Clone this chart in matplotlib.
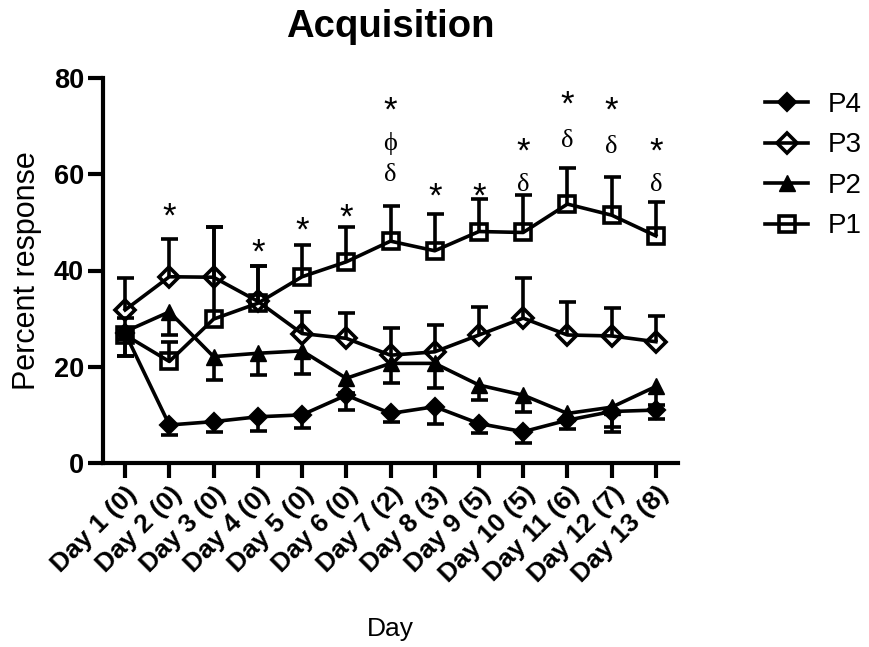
import numpy as np
import matplotlib
matplotlib.use("Agg")
import matplotlib.pyplot as plt

plt.rcParams['font.family'] = ['Liberation Sans', 'DejaVu Sans']

days = np.arange(1, 14)
tick_labels = ["Day 1 (0)", "Day 2 (0)", "Day 3 (0)", "Day 4 (0)", "Day 5 (0)",
               "Day 6 (0)", "Day 7 (2)", "Day 8 (3)", "Day 9 (5)", "Day 10 (5)",
               "Day 11 (6)", "Day 12 (7)", "Day 13 (8)"]

p1 = [26.6, 21.1, 29.9, 33.2, 38.7, 41.8, 46.1, 44.1, 48.1, 47.9, 53.8, 51.5, 47.2]
p1_err = [3.5, 4.1, 19.2, 7.7, 6.6, 7.3, 7.2, 7.6, 6.7, 7.8, 7.6, 7.9, 7.0]
p3 = [31.8, 38.7, 38.6, 33.6, 26.9, 25.9, 22.4, 23.1, 26.6, 30.1, 26.6, 26.4, 25.2]
p3_err = [6.6, 7.8, 10.5, 7.3, 4.5, 5.3, 5.6, 5.6, 5.9, 8.3, 6.9, 5.9, 5.3]
p2 = [27.3, 31.4, 22.1, 22.8, 23.3, 17.6, 20.7, 20.7, 16.2, 14.1, 10.3, 11.6, 15.9]
p2_err = [5.0, 4.8, 4.9, 4.5, 4.8, 3.1, 4.0, 5.2, 3.1, 3.4, 1.4, 4.1, 3.8]
p4 = [27.0, 7.9, 8.6, 9.6, 10.0, 14.1, 10.3, 11.7, 8.2, 6.5, 8.9, 10.7, 11.0]
p4_err = [4.8, 2.1, 2.2, 2.9, 2.8, 3.1, 1.7, 3.5, 2.0, 2.4, 1.9, 4.2, 1.9]

# significance annotations: (day, symbol, y)
ann_days = [2, 4, 5, 6, 7, 7, 7, 8, 9, 10, 10, 11, 11, 12, 12, 13, 13]
ann_syms = ['*', '*', '*', '*', '*', 'ϕ', 'δ', '*', '*', '*', 'δ', '*', 'δ', '*', 'δ', '*', 'δ']
ann_vals = [53.2, 45.7, 50.3, 52.9, 75.1, 66.4, 60.6, 57.4, 57.4, 66.7, 58.4, 76.5, 67.5, 75.1, 66.4, 66.7, 58.4]

fig = plt.figure(figsize=(8.69, 6.47), dpi=100)
ax = fig.add_axes([103/869, 1-463/647, (678-103)/869, (463-78)/647])

lw = 2.6
cap_px = 17

def draw(y, err, direction, **kw):
    y = np.array(y); err = np.array(err)
    end = y + direction * err
    ax.vlines(days, y, end, color='black', lw=lw, zorder=2)
    ax.plot(days, end, ls='none', marker='_', ms=cap_px*0.72, mew=lw, color='black', zorder=2)
    line, = ax.plot(days, y, color='black', lw=lw, zorder=3, **kw)
    return line

h4 = draw(p4, p4_err, -1, marker='D', ms=8, mfc='black', mec='black', mew=lw)
h3 = draw(p3, p3_err, 1, marker='D', ms=10, mfc='none', mec='black', mew=lw)
h2 = draw(p2, p2_err, -1, marker='^', ms=11, mfc='black', mec='black', mew=1)
h1 = draw(p1, p1_err, 1, marker='s', ms=11, mfc='none', mec='black', mew=lw)

for d, s, v in zip(ann_days, ann_syms, ann_vals):
    if s == '*':
        fs = 25
        ax.annotate(s, (d, v), xytext=(0, -0.56*fs), textcoords='offset points',
                    ha='center', va='baseline', fontsize=fs, family=['Liberation Sans'])
    else:
        off = 0.35 if s == 'δ' else 0.23
        ax.annotate(s, (d, v), xytext=(0, -off*19), textcoords='offset points',
                    ha='center', va='baseline', fontsize=19,
                    family=['Liberation Serif', 'DejaVu Serif'])

ax.set_xlim(0.5, 13.5)
ax.set_ylim(0, 80)
ax.set_yticks([0, 20, 40, 60, 80])
ax.set_xticks(days)
ax.set_xticklabels(tick_labels, rotation=45, ha='right', rotation_mode='anchor',
                   fontsize=19, fontweight='bold')
for lab in ax.get_yticklabels():
    lab.set_fontsize(19.5)
    lab.set_fontweight('bold')
ax.spines['top'].set_visible(False)
ax.spines['right'].set_visible(False)
for s in ['left', 'bottom']:
    ax.spines[s].set_linewidth(3)
ax.tick_params(width=3, length=10.5, direction='out', pad=3)
ax.set_ylabel('Percent response', fontsize=22)
ax.yaxis.set_label_coords((42 - 103) / 575, 0.5)
ax.set_xlabel('Day', fontsize=19)
ax.xaxis.set_label_coords(0.5, (463 - 617) / 385)
fig.text(390/869, 1-37/647, 'Acquisition', ha='center', va='baseline',
         fontsize=27.5, fontweight='bold')

fig.legend([h4, h3, h2, h1], ['P4', 'P3', 'P2', 'P1'], loc='upper left',
           bbox_to_anchor=(740/869, 1-67/647), frameon=False, fontsize=20,
           handlelength=1.55, handletextpad=0.7, labelspacing=0.52)

fig.savefig('out.png', dpi=100)
